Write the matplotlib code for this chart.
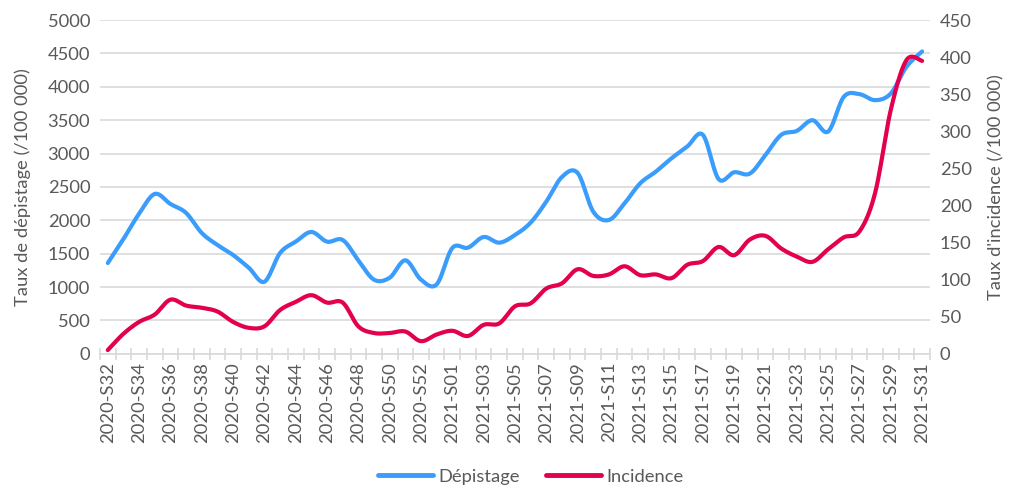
import numpy as np
import matplotlib
matplotlib.use("Agg")
import matplotlib.pyplot as plt
from matplotlib.lines import Line2D

weeks = [f"2020-S{w:02d}" for w in range(32, 54)] + [f"2021-S{w:02d}" for w in range(1, 32)]

depistage = [1360, 1720, 2100, 2395, 2245, 2110, 1810, 1630, 1480, 1290,
             1080, 1510, 1680, 1825, 1680, 1705, 1400, 1110, 1140, 1400,
             1110, 1040, 1585, 1590, 1750, 1665, 1780, 1965, 2280, 2650,
             2710, 2130, 2005, 2255, 2555, 2730, 2930, 3105, 3280, 2620,
             2720, 2700, 2980, 3280, 3340, 3500, 3330, 3850, 3890, 3800,
             3900, 4300, 4530]

incidence = [5, 27, 43, 53, 73, 65, 62, 57, 43, 35,
             37, 59, 70, 79, 69, 69, 37, 28, 28, 30,
             17, 26, 31, 24, 39, 41, 64, 68, 88, 95,
             114, 105, 107, 118, 106, 107, 102, 120, 125, 144,
             133, 154, 159, 142, 131, 124, 141, 157, 165, 217,
             329, 396, 395]

left_ticks = list(range(0, 5001, 500))
right_ticks = list(range(0, 451, 50))

BLUE = "#3A9DFB"
RED = "#E2004F"
GREY = "#595959"
GRID = "#D9D9D9"
FS = 13.2


def smooth(x, y, n=20):
    """Excel-like smoothed line (Catmull-Rom / Bezier through the data points)."""
    x = np.asarray(x, float)
    y = np.asarray(y, float)
    px = np.concatenate([[x[0]], x, [x[-1]]])
    py = np.concatenate([[y[0]], y, [y[-1]]])
    xs, ys = [], []
    t = np.linspace(0, 1, n, endpoint=False)
    for i in range(1, len(px) - 2):
        p0, p1, p2, p3 = (np.array([px[j], py[j]]) for j in (i - 1, i, i + 1, i + 2))
        c1 = p1 + (p2 - p0) / 6
        c2 = p2 - (p3 - p1) / 6
        b = ((1 - t) ** 3)[:, None] * p1 + (3 * (1 - t) ** 2 * t)[:, None] * c1 \
            + (3 * (1 - t) * t ** 2)[:, None] * c2 + (t ** 3)[:, None] * p2
        xs.append(b[:, 0])
        ys.append(b[:, 1])
    xs.append([x[-1]])
    ys.append([y[-1]])
    return np.concatenate(xs), np.concatenate(ys)


plt.rcParams["font.family"] = ["Lato", "DejaVu Sans"]

fig = plt.figure(figsize=(10.13, 4.9), dpi=100)
ax = fig.add_axes([0.0987, 0.278, 0.8193, 0.681])
ax2 = ax.twinx()

xpos = np.arange(len(weeks))
sx, sy = smooth(xpos, depistage)
ax.plot(sx, sy, color=BLUE, lw=3.0, solid_capstyle="round", zorder=3)
rx, ry = smooth(xpos, incidence)
ax2.plot(rx, ry, color=RED, lw=3.0, solid_capstyle="round", zorder=3)

ax.set_xlim(-0.5, len(weeks) - 0.5)
ax.set_ylim(0, 5000)
ax2.set_ylim(0, 450)
ax.set_yticks(left_ticks)
ax2.set_yticks(right_ticks)
ax.yaxis.grid(True, color=GRID, lw=1.2)
ax.set_axisbelow(True)

for a in (ax, ax2):
    for s in a.spines.values():
        s.set_visible(False)
    a.tick_params(axis="y", length=0, labelsize=FS, labelcolor=GREY, pad=7)
ax.spines["bottom"].set_visible(True)
ax.spines["bottom"].set_color(GRID)
ax.spines["bottom"].set_linewidth(1.2)

# category boundary tick marks
ax.set_xticks(np.arange(-0.5, len(weeks), 1.0))
ax.set_xticklabels([])
ax.tick_params(axis="x", which="major", direction="inout", length=9, width=1.2, color=GRID)
# labels every other week
lab_idx = list(range(0, len(weeks), 2))
ax.set_xticks(lab_idx, minor=True)
ax.set_xticklabels([weeks[i] for i in lab_idx], minor=True, rotation=90,
                   fontsize=FS, color=GREY)
ax.tick_params(axis="x", which="minor", length=0, pad=6)

ax.set_ylabel("Taux de dépistage (/100 000)", fontsize=FS, color=GREY, labelpad=12)
ax2.set_ylabel("Taux d'incidence (/100 000)", fontsize=FS, color=GREY, labelpad=12)

handles = [Line2D([0], [0], color=BLUE, lw=3.5, solid_capstyle="round"),
           Line2D([0], [0], color=RED, lw=3.5, solid_capstyle="round")]
fig.legend(handles, ["Dépistage", "Incidence"], loc="center", bbox_to_anchor=(0.524, 0.027),
           ncol=2, frameon=False, fontsize=FS, labelcolor=GREY, handlelength=3.0,
           columnspacing=1.4, handletextpad=0.3)

fig.savefig("out.png", dpi=100)
